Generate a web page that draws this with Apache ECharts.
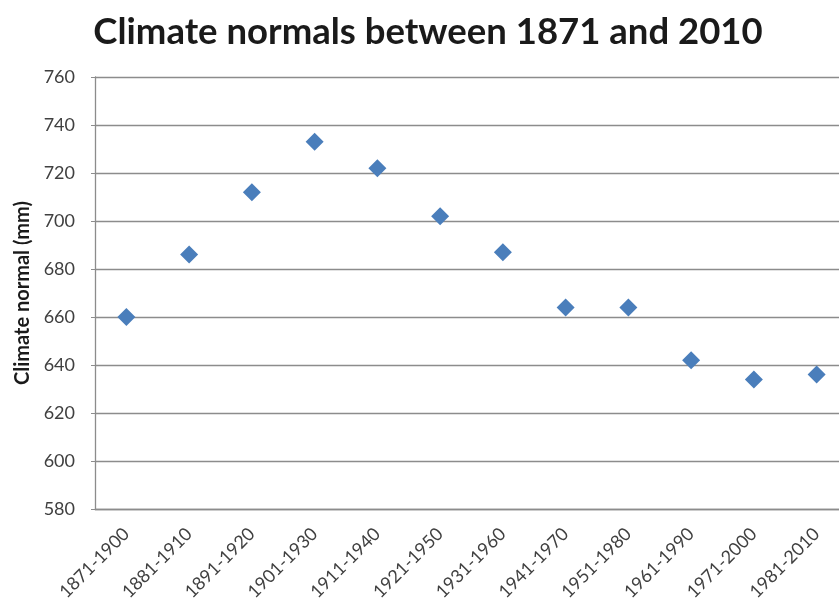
<!DOCTYPE html>
<html>
<head>
<meta charset="utf-8">
<script src="https://cdn.jsdelivr.net/npm/echarts@6/dist/echarts.min.js"></script>
<style>
  html, body { margin: 0; padding: 0; background: #fff; }
  #chart { width: 839px; height: 606px; }
</style>
</head>
<body>
<div id="chart"></div>
<script>
const periods = ['1871-1900', '1881-1910', '1891-1920', '1901-1930', '1911-1940', '1921-1950',
  '1931-1960', '1941-1970', '1951-1980', '1961-1990', '1971-2000', '1981-2010'];
const normals = [660, 686, 712, 733, 722, 702, 687, 664, 664, 642, 634, 636];
const yTicks = { min: 580, max: 760, interval: 20 };

const chart = echarts.init(document.getElementById('chart'));

const option = {
  animation: false,
  title: {
    text: 'Climate normals between 1871 and 2010',
    left: 423,
    textAlign: 'center',
    top: 9,
    textStyle: {
      fontFamily: 'Lato',
      fontWeight: 'bold',
      fontSize: 36.5,
      color: '#1a1a1a'
    }
  },
  grid: {
    left: 95,
    top: 77,
    width: 753,
    height: 432,
    outerBoundsMode: 'none'
  },
  xAxis: {
    type: 'category',
    data: periods,
    boundaryGap: true,
    axisLine: { lineStyle: { color: '#8c8c8c', width: 1.3 } },
    axisTick: { show: false },
    axisLabel: {
      interval: 0,
      rotate: 45,
      margin: 22,
      fontFamily: 'Lato',
      fontSize: 18,
      color: '#404040'
    },
    splitLine: { show: false }
  },
  yAxis: {
    type: 'value',
    min: yTicks.min,
    max: yTicks.max,
    interval: yTicks.interval,
    name: 'Climate normal (mm)',
    nameLocation: 'middle',
    nameGap: 61,
    nameTextStyle: {
      fontFamily: 'Lato',
      fontWeight: 'bold',
      fontSize: 20,
      color: '#1a1a1a'
    },
    axisLine: { show: true, lineStyle: { color: '#8c8c8c', width: 1.3 } },
    axisTick: { show: true, length: 4, inside: false, lineStyle: { color: '#8c8c8c' } },
    axisLabel: {
      margin: 20,
      fontFamily: 'Lato',
      fontSize: 18,
      color: '#404040'
    },
    splitLine: { lineStyle: { color: '#8c8c8c', width: 1.3 } }
  },
  series: [{
    type: 'scatter',
    data: normals,
    symbol: 'diamond',
    symbolSize: [18, 18],
    itemStyle: { color: '#4a7ebb', opacity: 1 }
  }]
};

chart.setOption(option);
</script>
</body>
</html>
